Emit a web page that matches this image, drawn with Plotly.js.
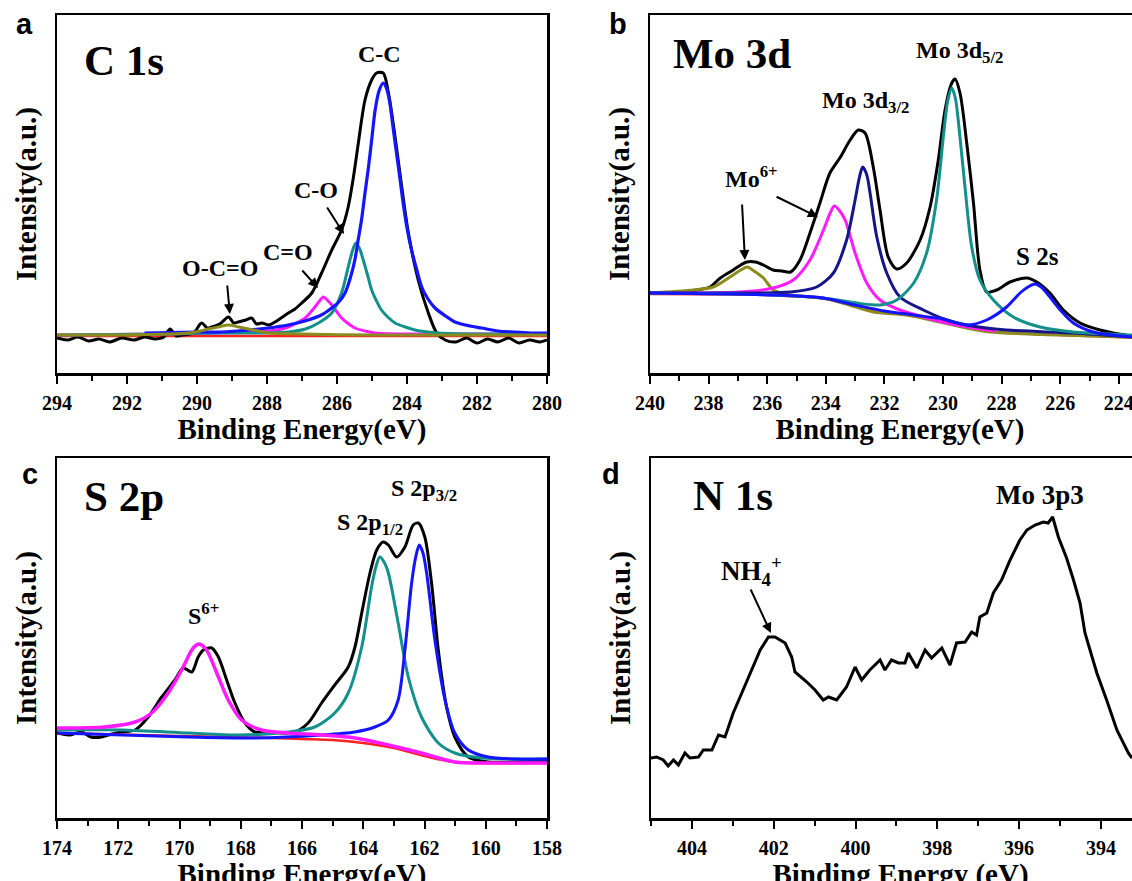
<!DOCTYPE html>
<html><head><meta charset="utf-8">
<script src="https://cdn.plot.ly/plotly-3.0.1.min.js"></script>
<style>html,body{margin:0;padding:0;overflow:hidden;background:#fff}#chart{width:1160px;height:900px}</style>
</head><body><div id="chart"></div>
<script>
// ---------- Panel a: C 1s ----------
const c1sRawE = [294,293.7,293.4,293.1,292.8,292.5,292.15,291.8,291.5,291.2,290.95,290.77,290.6,290.44,290.1,289.87,289.7,289.58,289.35,289.1,288.95,288.82,288.6,288.44,288.3,288.15,287.95,287.77,287.6,287.39,287.2,287.01,286.72,286.44,286.15,285.87,285.68,285.53,285.39,285.2,285.01,284.87,284.68,284.53,284.34,284.15,283.96,283.68,283.39,283.15,282.91,282.6,282.3,282.0,281.7,281.4,281.1,280.8,280.5,280.2,280.0];
const c1sRawI = [35,33,36,32,34,31,35,33,36,34,36,44,37,38,40,50,45,46,49,56,50,51,53,55,49,50,48,51,55,60,64,70,80,100,123,143,166,196,230,273,293,300,300,280,236,186,140,93,60,40,33,31,35,30,34,31,35,30,33,31,33];
const c1sCCE = [291.5,290,289.3,288.5,287.97,287.4,286.82,286.45,286.15,285.95,285.77,285.62,285.49,285.4,285.3,285.2,285.1,285.0,284.91,284.8,284.68,284.58,284.49,284.4,284.3,284.2,284.11,284.0,283.87,283.72,283.58,283.4,283.2,282.9,282.63,282.2,281.87,281.4,280.92,280.4,280];
const c1sCCI = [40,41,41,43,45,48,53,58,65,71,80,95,113,132,153,180,206,236,263,282,290,284,270,246,220,194,170,145,123,103,86,74,65,57,51,47,45,42,41,40,40];
const c1sCOE = [294,291,289.3,288.2,287.39,286.9,286.53,286.15,285.87,285.68,285.56,285.46,285.35,285.25,285.12,285.01,284.87,284.73,284.55,284.34,284.05,283.77,283.4,283.1,282,280];
const c1sCOI = [38,39,40,40,41,44,50,60,80,106,122,130,124,113,97,83,72,63,56,50,46,43,41,40,39,39];
const c1sCdOE = [294,291,289.77,288.34,287.7,287.39,287.1,286.91,286.75,286.63,286.5,286.39,286.28,286.15,286.0,285.87,285.7,285.49,285.2,284.91,284,283,282,280];
const c1sCdOI = [38,39,40,41,43,46,51,55,61,66,72,76,73,68,61,55,50,45,42,40,39,39,39,39];
const c1sOCOE = [294,292,290.8,290.25,289.9,289.68,289.4,289.1,288.8,288.53,288.25,287.96,287,285,283,281,280];
const c1sOCOI = [38,38,39,40,42,44,46,48,46,44,42,40,39,38,38,38,38];
const c1sBaseE = [294,287,280];
const c1sBaseI = [37,37,37];

// ---------- Panel b: Mo 3d ----------
const mo3dRawE = [240,239.2,238.4,237.95,237.6,237.16,236.9,236.7,236.4,236.13,235.8,235.5,235.2,234.88,234.54,234.2,233.86,233.5,233.17,232.89,232.66,232.38,232.15,231.87,231.58,231.24,230.78,230.44,230.16,229.93,229.7,229.59,229.42,229.19,228.96,228.74,228.51,228.17,227.71,227.14,226.8,226.35,225.89,225.32,224.64,223.55,222.9];
const mo3dRawI = [80,80,83,86,95,103,108,111,111,108,103,102,101,113,140,170,200,216,233,243,240,206,163,116,104,110,133,166,213,263,290,294,280,230,170,103,81,83,91,95,91,80,63,50,43,37,36];
const mo3d52E = [240,237,235.8,234.1,232.95,232.15,231.58,231.0,230.56,230.22,229.99,229.85,229.7,229.58,229.48,229.25,229.02,228.74,228.28,227.6,226.69,225.55,223.55,222.9];
const mo3d52I = [80,79,78,75,70,68,73,90,120,173,236,270,285,275,253,186,126,93,73,56,46,41,38,37];
const mo3d32E = [240,238,236.36,235.22,234.31,233.74,233.29,233.0,232.85,232.74,232.6,232.49,232.26,231.92,231.47,230.67,229.87,229.19,227.83,225.55,223.55,222.9];
const mo3d32I = [80,80,80,81,86,100,133,173,196,206,198,180,136,100,76,63,53,48,43,40,36,35];
const mo6aE = [240,236.93,235.8,235.11,234.54,234.08,233.85,233.71,233.55,233.34,233.0,232.6,232.15,231.47,230.67,229.87,228.96,228.2];
const mo6aI = [80,81,85,93,113,143,160,167,163,153,120,90,73,63,56,50,45,42];
const mo6bE = [240,238.52,237.84,237.27,236.9,236.68,236.45,236.13,235.79,235.22,234.08,233.2,232.38,231.24,230.1,229.19,228.4,226,222.9];
const mo6bI = [80,83,86,96,103,106,102,95,83,78,75,68,61,58,51,45,41,38,35];
const s2sE = [240,235.8,234.1,233,232,231,230,229.19,228.51,227.83,227.37,227.1,226.86,226.65,226.46,226.0,225.55,224.87,223.55,222.9];
const s2sI = [80,78,75,68,62,58,54,48,53,66,80,86,89,86,80,63,50,41,36,35];
const mo3dBaseE = [240,236,234,232.5,231,229.5,228.5,226,222.9];
const mo3dBaseI = [79,78,74,63,57,49,42,38,35];

// ---------- Panel c: S 2p ----------
const s2pRawE = [174,173.6,173.2,172.9,172.54,172.2,171.89,171.45,171.02,170.58,170.15,169.88,169.6,169.39,169.22,168.95,168.73,168.46,168.19,167.86,167.54,166.99,166.6,166.23,165.8,165.36,164.93,164.49,164.27,164.05,163.78,163.56,163.35,163.18,162.91,162.64,162.37,162.2,161.99,161.77,161.55,161.28,161.01,160.57,159.92,159.05,158];
const s2pRawI = [85,83,86,81,81,84,86,88,101,121,138,150,146,161,168,170,161,138,115,95,86,86,85,86,95,115,133,151,171,205,245,268,276,273,261,271,293,295,281,235,168,111,81,61,56,56,57];
const s2p12E = [174,171.89,169.71,168.08,166.45,165.58,164.93,164.49,164.05,163.73,163.58,163.46,163.32,163.18,162.86,162.53,162.1,161.55,161.01,160.14,159.05,158];
const s2p12I = [88,88,85,83,86,91,105,125,171,231,252,261,256,245,195,141,101,75,65,60,59,59];
const s2p32E = [174,169.71,167.54,165.36,164.27,163.62,163.18,162.86,162.64,162.42,162.28,162.17,162.05,161.93,161.66,161.33,161.01,160.57,159.92,159.05,158];
const s2p32I = [85,81,80,83,86,91,98,118,168,235,262,273,265,245,178,118,85,68,61,59,59];
const s6E = [174,172.43,171.45,170.91,170.37,169.93,169.6,169.45,169.35,169.2,169.06,168.73,168.41,167.97,167.32,166.45,165.36,164.27,163.18,162.1,161.01,159.92,158];
const s6I = [90,91,96,105,125,148,168,173,174,171,165,141,118,98,88,85,83,80,73,65,56,55,55];
const s2pBaseE = [174,170,167,166,165,164,163,162,161,158];
const s2pBaseI = [85,82,80,79,78,75,70,62,56,55];

// ---------- Panel d: N 1s ----------
const n1sE = [405.0,404.86,404.7,404.58,404.45,404.33,404.17,404.05,403.84,403.72,403.51,403.35,403.19,402.99,402.78,402.54,402.33,402.13,401.97,401.72,401.56,401.48,401.19,400.99,400.79,400.66,400.46,400.22,400.01,399.85,399.65,399.4,399.28,399.12,398.95,398.79,398.71,398.5,398.3,398.14,397.89,397.69,397.53,397.32,397.16,397.04,396.96,396.79,396.63,396.43,396.22,395.98,395.81,395.61,395.41,395.29,395.18,395.04,394.84,394.67,394.51,394.39,394.1,393.86,393.61,393.33,393.24];
const n1sI = [60,61,58,52,58,53,65,60,61,68,68,83,81,105,125,148,168,181,181,175,161,146,136,128,118,121,118,131,151,138,148,158,148,158,155,155,165,150,168,160,170,153,175,176,186,183,201,205,225,238,258,278,288,293,296,295,301,281,260,238,215,185,145,118,88,65,60];

const xTitle = 'Binding Energy(eV)';
const xTitleD = 'Binding Energy (eV)';
const yTitle = 'Intensity(a.u.)';

// ---------- styles ----------
const serif = 'Liberation Serif, Times New Roman, serif';
const sans = 'Liberation Sans, Arial, sans-serif';
const C = {black:'#000000', blue:'#1414ff', teal:'#14908c', magenta:'#ff1aff', olive:'#8c8c1e', navy:'#16168a', red:'#ff2020'};

function tr(x, y, ax, color, width, shape) {
  return {x, y, xaxis:'x'+ax, yaxis:'y'+ax, type:'scatter', mode:'lines',
    line:{color, width: width || 3, shape: shape || 'spline', smoothing: 0.8}, hoverinfo:'skip'};
}
const data = [
  tr(c1sBaseE, c1sBaseI, '', C.red, 2.5),
  tr(c1sRawE, c1sRawI, '', C.black, 3),
  tr(c1sCdOE, c1sCdOI, '', C.magenta, 3),
  tr(c1sCOE, c1sCOI, '', C.teal, 3),
  tr(c1sCCE, c1sCCI, '', C.blue, 3.2),
  tr(c1sOCOE, c1sOCOI, '', C.olive, 3),

  tr(mo3dRawE, mo3dRawI, '2', C.black, 3),
  tr(mo3dBaseE, mo3dBaseI, '2', C.red, 2.5),
  tr(mo6bE, mo6bI, '2', C.olive, 3),
  tr(mo6aE, mo6aI, '2', C.magenta, 3),
  tr(mo3d32E, mo3d32I, '2', C.navy, 3),
  tr(mo3d52E, mo3d52I, '2', C.teal, 3),
  tr(s2sE, s2sI, '2', C.blue, 3),

  tr(s2pRawE, s2pRawI, '3', C.black, 3),
  tr(s2pBaseE, s2pBaseI, '3', C.red, 2.5),
  tr(s2p12E, s2p12I, '3', C.teal, 3),
  tr(s2p32E, s2p32I, '3', C.blue, 3),
  tr(s6E, s6I, '3', C.magenta, 3.5),

  tr(n1sE, n1sI, '4', C.black, 3, 'linear')
];

const W = 1160, H = 900;
function xAxis(x0, x1, rng, anchor, tick0, title) {
  return {domain:[x0/W, x1/W], range:rng, anchor, showline:true, mirror:true, linecolor:'#000', linewidth:2.5,
    ticks:'outside', ticklen:8, tickwidth:2, tickcolor:'#000', tick0, dtick:2, ticklabelstandoff:2,
    minor:{ticks:'outside', ticklen:5, tickwidth:2, dtick:1, tickcolor:'#000'},
    showgrid:false, zeroline:false, fixedrange:true,
    tickfont:{family:serif, size:20, color:'#000', weight:'bold'},
    title:{text:title, font:{family:serif, size:29, color:'#000', weight:'bold'}, standoff:1}};
}
function yAxis(top, bottom, rng, anchor) {
  return {domain:[1-bottom/H, 1-top/H], range:rng, anchor, showline:true, mirror:true, linecolor:'#000', linewidth:2.5,
    ticks:'', showticklabels:false, showgrid:false, zeroline:false, fixedrange:true,
    title:{text:yTitle, font:{family:serif, size:29, color:'#000', weight:'bold'}, standoff:10}};
}

function lab(ax, x, y, text, size, family) {
  return {xref:'x'+ax, yref:'y'+ax, x, y, text, showarrow:false, xanchor:'center', yanchor:'middle',
    font:{family: family || serif, size, color:'#000', weight:'bold'}};
}
function arrow(ax, x, y, tx, ty) {
  return {xref:'x'+ax, yref:'y'+ax, x, y, axref:'x'+ax, ayref:'y'+ax, ax:tx, ay:ty, text:'', showarrow:true,
    arrowhead:2, arrowsize:1, arrowwidth:2, arrowcolor:'#000'};
}
function letter(px, py, text) {
  return {xref:'paper', yref:'paper', x:px/W, y:1-py/H, text, showarrow:false, xanchor:'center', yanchor:'middle',
    font:{family:sans, size:29, color:'#000', weight:'bold'}};
}

const annotations = [
  letter(24, 24, 'a'), letter(618, 24, 'b'), letter(30, 474, 'c'), letter(611, 474, 'd'),
  lab('', 292.09, 313, 'C 1s', 43),
  lab('', 284.8, 319, 'C-C', 24),
  lab('', 286.6, 183, 'C-O', 24),
  arrow('', 285.8, 139, 286.31, 167),
  lab('', 287.4, 121, 'C=O', 24),
  arrow('', 286.54, 85, 287.03, 104),
  lab('', 289.34, 105, 'O-C=O', 24),
  arrow('', 289.06, 59, 289.14, 89),

  lab('2', 237.2, 320, 'Mo 3d', 43),
  lab('2', 229.42, 321, 'Mo 3d<sub>5/2</sub>', 24),
  lab('2', 232.63, 271, 'Mo 3d<sub>3/2</sub>', 24),
  lab('2', 236.52, 196, 'Mo<sup>6+</sup>', 24),
  arrow('2', 236.76, 113, 236.86, 170),
  arrow('2', 234.27, 156, 235.73, 177),
  lab('2', 226.79, 117, 'S 2s', 25),

  lab('3', 171.81, 321, 'S 2p', 43),
  lab('3', 162.02, 328, 'S 2p<sub>3/2</sub>', 24),
  lab('3', 163.78, 294, 'S 2p<sub>1/2</sub>', 24),
  lab('3', 169.23, 204, 'S<sup>6+</sup>', 24),

  lab('4', 403.0, 322, 'N 1s', 43),
  lab('4', 395.49, 323, 'Mo 3p3', 27),
  lab('4', 402.55, 247, 'NH<sub>4</sub><sup>+</sup>', 27),
  arrow('4', 402.07, 185, 402.58, 230)
];

const layout = {
  width: W, height: H, margin:{l:0, r:0, t:0, b:0}, showlegend:false,
  paper_bgcolor:'#fff', plot_bgcolor:'#fff',
  xaxis: xAxis(57, 547, [294, 280], 'y', 294, xTitle),
  yaxis: yAxis(15, 373, [0, 358], 'x'),
  xaxis2: xAxis(650, 1150, [240, 222.935], 'y2', 240, xTitle),
  yaxis2: yAxis(15, 373, [0, 358], 'x2'),
  xaxis3: xAxis(57, 547, [174, 158], 'y3', 174, xTitle),
  yaxis3: yAxis(458, 818, [0, 360], 'x3'),
  xaxis4: xAxis(651, 1150, [405, 392.8], 'y4', 404, xTitleD),
  yaxis4: yAxis(458, 818, [0, 360], 'x4'),
  annotations
};
Plotly.newPlot('chart', data, layout, {staticPlot:true, displayModeBar:false});
</script></body></html>
